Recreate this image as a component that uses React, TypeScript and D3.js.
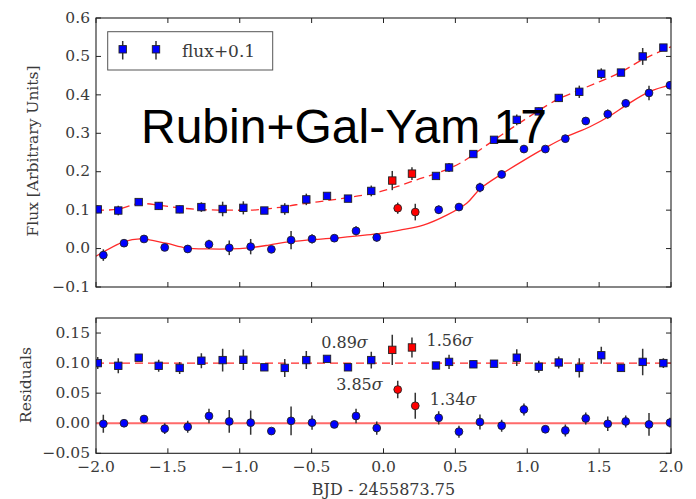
import { useEffect, useRef } from "react";
import * as d3 from "d3";

// days relative to BJD 2455873.75
const CIRCLE_X = [-1.949, -1.805, -1.666, -1.522, -1.362, -1.214, -1.073, -0.924, -0.78, -0.643, -0.497, -0.342, -0.191, -0.047, 0.099, 0.221, 0.384, 0.525, 0.671, 0.822, 0.977, 1.126, 1.265, 1.407, 1.56, 1.685, 1.847, 1.993];
const CIRCLE_FLUX = [-0.017, 0.014, 0.025, 0.003, -0.001, 0.011, 0.002, 0.005, -0.002, 0.022, 0.025, 0.027, 0.046, 0.029, 0.105, 0.095, 0.101, 0.108, 0.159, 0.193, 0.259, 0.259, 0.286, 0.332, 0.35, 0.378, 0.405, 0.425];
const CIRCLE_RESID = [-0.001, 0.0, 0.007, -0.009, -0.006, 0.012, 0.003, 0.001, -0.013, 0.004, 0.001, -0.002, 0.012, -0.008, 0.056, 0.029, 0.009, -0.014, 0.002, -0.004, 0.023, -0.01, -0.012, 0.008, -0.001, 0.003, -0.002, 0.001];
const CIRCLE_ERR = [0.015, 0.005, 0.005, 0.009, 0.01, 0.012, 0.019, 0.02, 0.004, 0.024, 0.012, 0.005, 0.012, 0.011, 0.0145, 0.0216, 0.011, 0.01, 0.0125, 0.01, 0.01, 0.005, 0.01, 0.01, 0.012, 0.01, 0.019, 0.008];

const SQUARE_X = [-1.988, -1.845, -1.703, -1.564, -1.418, -1.267, -1.119, -0.975, -0.829, -0.687, -0.537, -0.393, -0.247, -0.085, 0.061, 0.198, 0.365, 0.456, 0.625, 0.769, 0.927, 1.08, 1.219, 1.362, 1.515, 1.652, 1.803, 1.947];
const SQUARE_FLUX = [0.102, 0.099, 0.121, 0.111, 0.102, 0.108, 0.103, 0.106, 0.099, 0.103, 0.128, 0.137, 0.13, 0.15, 0.177, 0.195, 0.189, 0.211, 0.246, 0.283, 0.335, 0.357, 0.392, 0.408, 0.455, 0.458, 0.5, 0.523];
const SQUARE_RESID = [0.1, 0.0955, 0.109, 0.0955, 0.092, 0.104, 0.105, 0.1055, 0.093, 0.092, 0.105, 0.107, 0.093, 0.105, 0.122, 0.126, 0.096, 0.102, 0.098, 0.099, 0.109, 0.094, 0.101, 0.092, 0.113, 0.092, 0.102, 0.1];
const SQUARE_ERR = [0.01, 0.0125, 0.004, 0.01, 0.01, 0.0125, 0.019, 0.017, 0.005, 0.015, 0.015, 0.005, 0.005, 0.014, 0.025, 0.0167, 0.006, 0.012, 0.006, 0.006, 0.014, 0.01, 0.01, 0.016, 0.014, 0.006, 0.022, 0.008];

// points flagged as outliers (drawn red)
const OUTLIERS = [14, 15];

// fitted model curves, read at knots
const MODEL_X = [-2.0, -1.803, -1.694, -1.513, -1.374, -1.214, -1.075, -0.936, -0.797, -0.65, -0.349, -0.047, 0.115, 0.277, 0.44, 0.579, 0.671, 0.822, 0.973, 1.135, 1.274, 1.436, 1.574, 1.692, 1.854, 2.0];
const MODEL_Y = [-0.02, 0.018, 0.025, 0.014, 0.002, -0.001, -0.001, 0.002, 0.009, 0.018, 0.027, 0.038, 0.048, 0.061, 0.087, 0.118, 0.155, 0.194, 0.229, 0.264, 0.291, 0.317, 0.345, 0.374, 0.409, 0.426];
const MODEL2_X = [-2.0, -1.856, -1.697, -1.548, -1.395, -1.242, -1.068, -0.91, -0.748, -0.609, -0.372, -0.14, -0.024, 0.092, 0.231, 0.37, 0.532, 0.694, 0.903, 1.205, 1.367, 1.645, 1.808, 2.0];
const MODEL2_Y = [0.1, 0.102, 0.117, 0.112, 0.105, 0.101, 0.1, 0.1, 0.106, 0.114, 0.126, 0.139, 0.148, 0.161, 0.179, 0.196, 0.222, 0.263, 0.316, 0.387, 0.413, 0.458, 0.493, 0.525];

const SIGMA_LABELS = ["0.89", "1.56", "3.85", "1.34"];

const X_TICKS = [-2, -1.5, -1, -0.5, 0, 0.5, 1, 1.5, 2];
const FLUX_TICKS = [-0.1, 0, 0.1, 0.2, 0.3, 0.4, 0.5, 0.6];
const RESID_TICKS = [-0.05, 0, 0.05, 0.1, 0.15];

const SERIF = "'DejaVu Serif', serif";
const RED = "#ff2a2a";
const BLUE = "#0000ff";

const minus = (s: string) => s.replace("-", "\u2212");

const App = () => {
  const svgRef = useRef<SVGSVGElement>(null);

  useEffect(() => {
    const svg = d3.select(svgRef.current);
    svg.selectAll("*").remove();

    const left = 96, right = 671;
    const x = d3.scaleLinear().domain([-2, 2]).range([left, right]);
    const yTop = d3.scaleLinear().domain([-0.1, 0.6]).range([287, 18]);
    const yBot = d3.scaleLinear().domain([-0.05, 0.175]).range([453.3, 318]);

    const drawFrame = (y: any, ticks: number[], fmt: string, id: string, showX: boolean) => {
      const [b, t] = y.range();
      svg.append("clipPath").attr("id", id)
        .append("rect").attr("x", left).attr("y", t).attr("width", right - left).attr("height", b - t);

      const g = svg.append("g");
      // inside ticks on all four sides
      const tk = 5;
      X_TICKS.forEach((v) => {
        g.append("line").attr("x1", x(v)).attr("x2", x(v)).attr("y1", b).attr("y2", b - tk);
        g.append("line").attr("x1", x(v)).attr("x2", x(v)).attr("y1", t).attr("y2", t + tk);
      });
      ticks.forEach((v) => {
        g.append("line").attr("x1", left).attr("x2", left + tk).attr("y1", y(v)).attr("y2", y(v));
        g.append("line").attr("x1", right).attr("x2", right - tk).attr("y1", y(v)).attr("y2", y(v));
      });
      g.selectAll("line").attr("stroke", "#222").attr("stroke-width", 1);

      g.selectAll("text.ylab").data(ticks).enter().append("text")
        .attr("x", left - 6).attr("y", (d) => y(d)).attr("dy", "0.3em")
        .attr("text-anchor", "end")
        .style("font", `15.5px ${SERIF}`).attr("fill", "#3a3a3a")
        .text((d) => minus(d3.format(fmt)(d)));

      if (showX) {
        g.selectAll("text.xlab").data(X_TICKS).enter().append("text")
          .attr("x", (d) => x(d)).attr("y", b + 19)
          .attr("text-anchor", "middle")
          .style("font", `15.5px ${SERIF}`).attr("fill", "#3a3a3a")
          .text((d) => minus(d3.format(".1f")(d)));
      }
      return g;
    };

    const drawPoints = (g: any, xs: number[], ys: number[], errs: number[], y: any, shape: string) => {
      const idx = d3.range(xs.length);
      g.selectAll("line.err").data(idx).enter().append("line")
        .attr("x1", (i) => x(xs[i])).attr("x2", (i) => x(xs[i]))
        .attr("y1", (i) => y(ys[i] - errs[i])).attr("y2", (i) => y(ys[i] + errs[i]))
        .attr("stroke", "#333").attr("stroke-width", 1.5);
      const fill = (i: number) => (OUTLIERS.includes(i) ? "#ff0000" : BLUE);
      if (shape === "circle") {
        g.selectAll("circle.pt").data(idx).enter().append("circle")
          .attr("cx", (i) => x(xs[i])).attr("cy", (i) => y(ys[i])).attr("r", 3.9)
          .attr("fill", fill).attr("stroke", "#222").attr("stroke-width", 0.9);
      } else {
        const s = 7.4;
        g.selectAll("rect.pt").data(idx).enter().append("rect")
          .attr("x", (i) => x(xs[i]) - s / 2).attr("y", (i) => y(ys[i]) - s / 2)
          .attr("width", s).attr("height", s)
          .attr("fill", fill).attr("stroke", "#222").attr("stroke-width", 0.9);
      }
    };

    // ---- top panel
    drawFrame(yTop, FLUX_TICKS, ".1f", "clipTop", false);
    const top = svg.append("g").attr("clip-path", "url(#clipTop)");

    const line = (xs: number[], ys: number[], y: any) =>
      d3.line<number>().x((i) => x(xs[i])).y((i) => y(ys[i])).curve(d3.curveCatmullRom.alpha(0.5))(d3.range(xs.length));

    top.append("path").attr("d", line(MODEL_X, MODEL_Y, yTop))
      .attr("fill", "none").attr("stroke", RED).attr("stroke-width", 1.3);
    top.append("path").attr("d", line(MODEL2_X, MODEL2_Y, yTop))
      .attr("fill", "none").attr("stroke", RED).attr("stroke-width", 1.3).attr("stroke-dasharray", "8,5");

    drawPoints(top, SQUARE_X, SQUARE_FLUX, SQUARE_ERR, yTop, "square");
    drawPoints(top, CIRCLE_X, CIRCLE_FLUX, CIRCLE_ERR, yTop, "circle");

    svg.append("rect").attr("x", left).attr("y", 18).attr("width", right - left).attr("height", 287 - 18)
      .attr("fill", "none").attr("stroke", "#222").attr("stroke-width", 1.1);

    // legend
    const lg = svg.append("g");
    lg.append("rect").attr("x", 107.7).attr("y", 31.7).attr("width", 165).attr("height", 38.3)
      .attr("fill", "white").attr("stroke", "#555").attr("stroke-width", 1);
    [122.7, 156].forEach((lx) => {
      lg.append("line").attr("x1", lx).attr("x2", lx).attr("y1", 41).attr("y2", 59.5)
        .attr("stroke", "#333").attr("stroke-width", 1.5);
      lg.append("rect").attr("x", lx - 3.7).attr("y", 49.3 - 3.7).attr("width", 7.4).attr("height", 7.4)
        .attr("fill", BLUE).attr("stroke", "#222").attr("stroke-width", 0.9);
    });
    lg.append("text").attr("x", 182).attr("y", 56.5)
      .style("font", `17px ${SERIF}`).attr("fill", "#3a3a3a").text("flux+0.1");

    svg.append("text").attr("transform", "translate(38,151) rotate(-90)")
      .attr("text-anchor", "middle").style("font", `15.5px ${SERIF}`).attr("fill", "#3a3a3a")
      .text("Flux [Arbitrary Units]");

    // ---- residual panel
    drawFrame(yBot, RESID_TICKS, ".2f", "clipBot", true);
    const bot = svg.append("g").attr("clip-path", "url(#clipBot)");
    bot.append("line").attr("x1", x(-2)).attr("x2", x(2)).attr("y1", yBot(0)).attr("y2", yBot(0))
      .attr("stroke", "#ff6a6a").attr("stroke-width", 2.2);
    bot.append("line").attr("x1", x(-2)).attr("x2", x(2)).attr("y1", yBot(0.1)).attr("y2", yBot(0.1))
      .attr("stroke", RED).attr("stroke-width", 1.4).attr("stroke-dasharray", "8,5");

    drawPoints(bot, SQUARE_X, SQUARE_RESID, SQUARE_ERR, yBot, "square");
    drawPoints(bot, CIRCLE_X, CIRCLE_RESID, CIRCLE_ERR, yBot, "circle");

    svg.append("rect").attr("x", left).attr("y", 318).attr("width", right - left).attr("height", 453.3 - 318)
      .attr("fill", "none").attr("stroke", "#222").attr("stroke-width", 1.1);

    // sigma annotations next to the outliers
    const ann = [
      { px: SQUARE_X[14], py: SQUARE_RESID[14], dx: -24.5, dy: -2, anchor: "end" },
      { px: SQUARE_X[15], py: SQUARE_RESID[15], dx: 14.5, dy: -1, anchor: "start" },
      { px: CIRCLE_X[14], py: CIRCLE_RESID[14], dx: -15, dy: 0, anchor: "end" },
      { px: CIRCLE_X[15], py: CIRCLE_RESID[15], dx: 14.5, dy: -1, anchor: "start" },
    ];
    ann.forEach((a, i) => {
      const t = svg.append("text").attr("x", x(a.px) + a.dx).attr("y", yBot(a.py) + a.dy)
        .attr("text-anchor", a.anchor).style("font", `16px ${SERIF}`).attr("fill", "#3a3a3a");
      t.append("tspan").text(SIGMA_LABELS[i]);
      t.append("tspan").style("font-style", "italic").text("σ");
    });

    svg.append("text").attr("transform", "translate(31,385) rotate(-90)")
      .attr("text-anchor", "middle").style("font", `15.5px ${SERIF}`).attr("fill", "#3a3a3a")
      .text("Residuals");

    svg.append("text").attr("x", (left + right) / 2).attr("y", 494.5)
      .attr("text-anchor", "middle").style("font", `16px ${SERIF}`).attr("fill", "#3a3a3a")
      .text("BJD - 2455873.75");

    // overlay caption
    svg.append("text").attr("x", 141).attr("y", 143)
      .style("font", "48px 'Liberation Sans', Arial, sans-serif").attr("fill", "black")
      .text("Rubin+Gal-Yam 17");
  }, []);

  return (
    <div style={{ position: "absolute", left: 0, top: 0 }}>
      <svg ref={svgRef} width={696} height={499} style={{ display: "block", background: "white" }} />
    </div>
  );
};

export default App;
